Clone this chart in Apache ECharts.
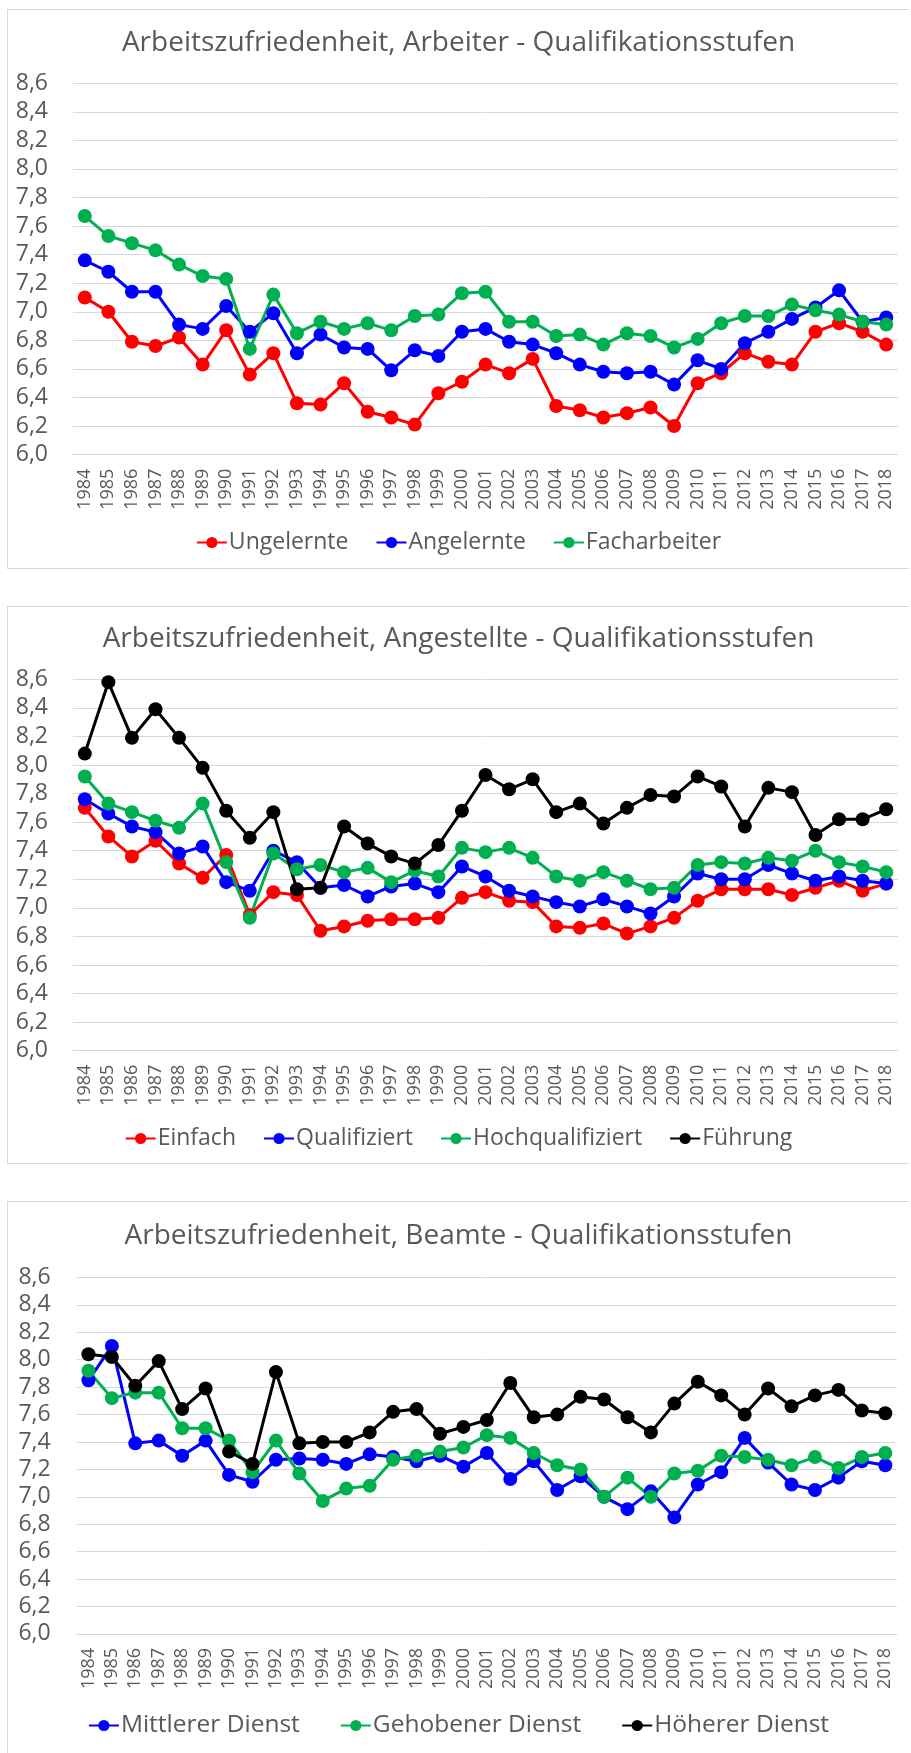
<!DOCTYPE html>
<html>
<head>
<meta charset="utf-8">
<script src="https://cdn.jsdelivr.net/npm/echarts@6/dist/echarts.min.js"></script>
<style>
  body { margin: 0; background: #fff; width: 911px; height: 1753px; overflow: hidden; position: relative; }
  .box { position: absolute; left: 7px; width: 901px; border: 1px solid #d9d9d9; border-right: none; }
  #chart1 { top: 9px; height: 558px; }
  #chart2 { top: 606px; height: 556px; }
  #chart3 { top: 1201px; height: 560px; border-bottom: none; }
</style>
</head>
<body>
<div id="chart1" class="box"></div>
<div id="chart2" class="box"></div>
<div id="chart3" class="box"></div>
<script>
// Jahre (x-Achse)
const years = [];
for (let y = 1984; y <= 2018; y++) years.push(String(y));

// y-Achse
const yMin = 6.0;
const yMax = 8.6;
const yStep = 0.2;

// Arbeiter
const ungelernte = [7.10, 7.00, 6.79, 6.76, 6.82, 6.63, 6.87, 6.56, 6.71, 6.36, 6.35, 6.50, 6.30, 6.26, 6.21, 6.43,
  6.51, 6.63, 6.57, 6.67, 6.34, 6.31, 6.26, 6.29, 6.33, 6.20, 6.50, 6.57, 6.71, 6.65, 6.63, 6.86, 6.92, 6.86, 6.77];
const angelernte = [7.36, 7.28, 7.14, 7.14, 6.91, 6.88, 7.04, 6.86, 6.99, 6.71, 6.84, 6.75, 6.74, 6.59, 6.73, 6.69,
  6.86, 6.88, 6.79, 6.77, 6.71, 6.63, 6.58, 6.57, 6.58, 6.49, 6.66, 6.60, 6.78, 6.86, 6.95, 7.03, 7.15, 6.93, 6.96];
const facharbeiter = [7.67, 7.53, 7.48, 7.43, 7.33, 7.25, 7.23, 6.74, 7.12, 6.85, 6.93, 6.88, 6.92, 6.87, 6.97, 6.98,
  7.13, 7.14, 6.93, 6.93, 6.83, 6.84, 6.77, 6.85, 6.83, 6.75, 6.81, 6.92, 6.97, 6.97, 7.05, 7.01, 6.98, 6.93, 6.91];

// Angestellte
const einfach = [7.70, 7.50, 7.36, 7.47, 7.31, 7.21, 7.37, 6.95, 7.11, 7.09, 6.84, 6.87, 6.91, 6.92, 6.92, 6.93,
  7.07, 7.11, 7.05, 7.04, 6.87, 6.86, 6.89, 6.82, 6.87, 6.93, 7.05, 7.13, 7.13, 7.13, 7.09, 7.14, 7.19, 7.12, 7.17];
const qualifiziert = [7.76, 7.66, 7.57, 7.53, 7.38, 7.43, 7.18, 7.12, 7.40, 7.32, 7.14, 7.16, 7.08, 7.15, 7.17, 7.11,
  7.29, 7.22, 7.12, 7.08, 7.04, 7.01, 7.06, 7.01, 6.96, 7.08, 7.24, 7.20, 7.20, 7.30, 7.24, 7.19, 7.22, 7.19, 7.17];
const hochqualifiziert = [7.92, 7.73, 7.67, 7.61, 7.56, 7.73, 7.32, 6.93, 7.38, 7.27, 7.30, 7.25, 7.28, 7.18, 7.26, 7.22,
  7.42, 7.39, 7.42, 7.35, 7.22, 7.19, 7.25, 7.19, 7.13, 7.14, 7.30, 7.32, 7.31, 7.35, 7.33, 7.40, 7.32, 7.29, 7.25];
const fuehrung = [8.08, 8.58, 8.19, 8.39, 8.19, 7.98, 7.68, 7.49, 7.67, 7.13, 7.14, 7.57, 7.45, 7.36, 7.31, 7.44,
  7.68, 7.93, 7.83, 7.90, 7.67, 7.73, 7.59, 7.70, 7.79, 7.78, 7.92, 7.85, 7.57, 7.84, 7.81, 7.51, 7.62, 7.62, 7.69];

// Beamte
const mittlerer = [7.85, 8.10, 7.39, 7.41, 7.30, 7.41, 7.16, 7.11, 7.27, 7.28, 7.27, 7.24, 7.31, 7.29, 7.26, 7.30,
  7.22, 7.32, 7.13, 7.26, 7.05, 7.15, 7.00, 6.91, 7.04, 6.85, 7.09, 7.18, 7.43, 7.25, 7.09, 7.05, 7.14, 7.26, 7.23];
const gehobener = [7.92, 7.72, 7.76, 7.76, 7.50, 7.50, 7.41, 7.18, 7.41, 7.17, 6.97, 7.06, 7.08, 7.27, 7.30, 7.33,
  7.36, 7.45, 7.43, 7.32, 7.23, 7.20, 7.00, 7.14, 7.00, 7.17, 7.19, 7.30, 7.29, 7.27, 7.23, 7.29, 7.21, 7.29, 7.32];
const hoeherer = [8.04, 8.02, 7.81, 7.99, 7.64, 7.79, 7.33, 7.24, 7.91, 7.39, 7.40, 7.40, 7.47, 7.62, 7.64, 7.46,
  7.51, 7.56, 7.83, 7.58, 7.60, 7.73, 7.71, 7.58, 7.47, 7.68, 7.84, 7.74, 7.60, 7.79, 7.66, 7.74, 7.78, 7.63, 7.61];

const RED = '#ff0000';
const BLUE = '#0000ff';
const GREEN = '#00b050';
const BLACK = '#000000';
const FONT = '"Open Sans", sans-serif';
const TEXT = '#595959';

function makeSeries(name, data, color) {
  return {
    name: name,
    type: 'line',
    data: data,
    symbol: 'circle',
    symbolSize: 14,
    showAllSymbol: true,
    lineStyle: { color: color, width: 3 },
    itemStyle: { color: color },
    emphasis: { disabled: true }
  };
}

function draw(id, title, layout, series) {
  const myChart = echarts.init(document.getElementById(id));
  const option = {
    animation: false,
    title: {
      text: title,
      left: 'center',
      top: layout.titleTop,
      textStyle: { color: TEXT, fontFamily: FONT, fontSize: 28, fontWeight: 'normal' }
    },
    legend: {
      left: 'center',
      top: layout.legendTop,
      itemWidth: 30,
      itemHeight: 14,
      itemGap: layout.legendGap,
      textStyle: { color: TEXT, fontFamily: FONT, fontSize: layout.legendFont, padding: [0, 0, 0, -3] }
    },
    grid: layout.grid,
    xAxis: {
      type: 'category',
      data: years,
      boundaryGap: true,
      axisLine: { show: true, lineStyle: { color: '#d9d9d9', width: 1 } },
      axisTick: { show: false },
      axisLabel: {
        rotate: 90,
        interval: 0,
        margin: 14,
        color: TEXT,
        fontFamily: FONT,
        fontSize: 18
      }
    },
    yAxis: {
      type: 'value',
      min: yMin,
      max: yMax,
      interval: yStep,
      axisLine: { show: false },
      axisTick: { show: false },
      axisLabel: {
        margin: layout.yMargin,
        color: TEXT,
        fontFamily: FONT,
        fontSize: 23,
        formatter: function (v) {
          return v.toFixed(1).replace('.', ',');
        }
      },
      splitLine: { show: true, lineStyle: { color: '#d9d9d9', width: 1 } }
    },
    series: series
  };
  myChart.setOption(option);
}

draw('chart1', 'Arbeitszufriedenheit, Arbeiter - Qualifikationsstufen', {
  titleTop: 14,
  legendTop: 516,
  legendGap: 27,
  legendFont: 23,
  yMargin: 25,
  grid: { left: 65, top: 73.2, width: 825, height: 371.4 }
}, [
  makeSeries('Ungelernte', ungelernte, RED),
  makeSeries('Angelernte', angelernte, BLUE),
  makeSeries('Facharbeiter', facharbeiter, GREEN)
]);

draw('chart2', 'Arbeitszufriedenheit, Angestellte - Qualifikationsstufen', {
  titleTop: 13,
  legendTop: 515,
  legendGap: 27,
  legendFont: 23,
  yMargin: 25,
  grid: { left: 65, top: 72.3, width: 825, height: 371.4 }
}, [
  makeSeries('Einfach', einfach, RED),
  makeSeries('Qualifiziert', qualifiziert, BLUE),
  makeSeries('Hochqualifiziert', hochqualifiziert, GREEN),
  makeSeries('Führung', fuehrung, BLACK)
]);

draw('chart3', 'Arbeitszufriedenheit, Beamte - Qualifikationsstufen', {
  titleTop: 15,
  legendTop: 506,
  legendGap: 40,
  legendFont: 24.5,
  yMargin: 26,
  grid: { left: 68.7, top: 75.5, width: 820.3, height: 356.4 }
}, [
  makeSeries('Mittlerer Dienst', mittlerer, BLUE),
  makeSeries('Gehobener Dienst', gehobener, GREEN),
  makeSeries('Höherer Dienst', hoeherer, BLACK)
]);
</script>
</body>
</html>
